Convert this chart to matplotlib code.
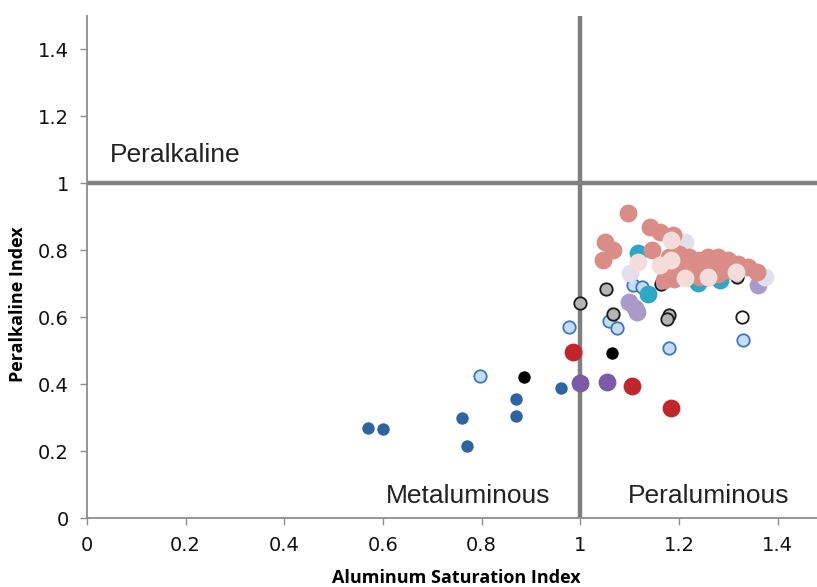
import matplotlib
matplotlib.use("Agg")
import matplotlib.pyplot as plt

# ── Data (ASI, peralkaline index)
dark_blue_x = [0.57, 0.60, 0.76, 0.77, 0.87, 0.87, 0.96]
dark_blue_y = [0.27, 0.265, 0.30, 0.215, 0.355, 0.305, 0.388]

black_x = [0.886, 1.065]
black_y = [0.421, 0.493]

light_blue_x = [0.797, 0.978, 1.059, 1.075, 1.179, 1.329, 1.107, 1.126]
light_blue_y = [0.424, 0.570, 0.588, 0.567, 0.507, 0.531, 0.695, 0.690]

gray_x = [1.0, 1.053, 1.067, 1.164, 1.180, 1.176, 1.318]
gray_y = [0.642, 0.684, 0.609, 0.698, 0.606, 0.594, 0.719]

open_x = [1.327]
open_y = [0.600]

red_x = [0.986, 1.105, 1.183]
red_y = [0.496, 0.394, 0.328]

purple_x = [1.0, 1.055]
purple_y = [0.403, 0.406]

teal_x = [1.138, 1.118, 1.239, 1.284]
teal_y = [0.669, 0.791, 0.701, 0.710]

light_purple_x = [1.098, 1.112, 1.116, 1.361]
light_purple_y = [0.645, 0.627, 0.615, 0.696]

lavender_x = [1.213, 1.101, 1.375, 1.25]
lavender_y = [0.824, 0.731, 0.720, 0.735]

salmon_x = [1.097, 1.142, 1.162, 1.189, 1.051, 1.067, 1.047, 1.146,
            1.18, 1.20, 1.22, 1.24, 1.26, 1.28, 1.30, 1.32, 1.34, 1.359,
            1.19, 1.21, 1.23, 1.25, 1.27, 1.29, 1.31,
            1.18, 1.20, 1.22, 1.24, 1.28, 1.30, 1.17, 1.19, 1.26]
salmon_y = [0.910, 0.869, 0.854, 0.845, 0.824, 0.800, 0.770, 0.800,
            0.78, 0.79, 0.78, 0.77, 0.78, 0.78, 0.77, 0.76, 0.75, 0.734,
            0.75, 0.76, 0.75, 0.76, 0.75, 0.76, 0.745,
            0.73, 0.73, 0.735, 0.72, 0.73, 0.74, 0.71, 0.715, 0.72]

pale_pink_x = [1.183, 1.118, 1.162, 1.213, 1.26, 1.316, 1.183]
pale_pink_y = [0.830, 0.764, 0.755, 0.716, 0.719, 0.734, 0.770]

LINE_GRAY = "#808080"
AXIS_GRAY = "#8c8c8c"
S_SMALL = 80
S_LARGE = 165

plt.rcParams["font.family"] = ["Liberation Sans Narrow", "DejaVu Sans"]

fig = plt.figure(figsize=(8.17, 5.87), dpi=100)
ax = fig.add_axes([87 / 817, 1 - 518 / 587, 730 / 817, 502 / 587])

ax.axvline(1.0, color=LINE_GRAY, linewidth=3.2, zorder=1)
ax.axhline(1.0, color=LINE_GRAY, linewidth=3.2, zorder=1)

ax.scatter(dark_blue_x, dark_blue_y, s=S_SMALL, c="#2E64A0", linewidths=0, zorder=3)
ax.scatter(black_x, black_y, s=S_SMALL, c="#000000", linewidths=0, zorder=3)
ax.scatter(light_blue_x, light_blue_y, s=S_SMALL, c="#C5DCF2",
           edgecolors="#3C78BE", linewidths=1.3, zorder=3)
ax.scatter(gray_x, gray_y, s=S_SMALL, c="#B4B4B4",
           edgecolors="#1a1a1a", linewidths=1.3, zorder=3)
ax.scatter(open_x, open_y, s=S_SMALL, c="white",
           edgecolors="#1a1a1a", linewidths=1.3, zorder=3)
ax.scatter(red_x, red_y, s=S_LARGE, c="#C0262C", linewidths=0, zorder=4)
ax.scatter(purple_x, purple_y, s=S_LARGE, c="#7B5AA6", linewidths=0, zorder=4)
ax.scatter(teal_x, teal_y, s=S_LARGE, c="#2CA8C6", linewidths=0, zorder=4)
ax.scatter(light_purple_x, light_purple_y, s=S_LARGE, c="#A99ACA", linewidths=0, zorder=4)
ax.scatter(lavender_x, lavender_y, s=S_LARGE, c="#E2DEEC", linewidths=0, zorder=4)
ax.scatter(salmon_x, salmon_y, s=S_LARGE, c="#DA8C87", linewidths=0, zorder=5)
ax.scatter(pale_pink_x, pale_pink_y, s=S_LARGE, c="#F3DCDA", linewidths=0, zorder=6)

ax.set_xlim(0, 1.48)
ax.set_ylim(0, 1.5)
ax.set_xticks([0, 0.2, 0.4, 0.6, 0.8, 1, 1.2, 1.4])
ax.set_xticklabels(["0", "0.2", "0.4", "0.6", "0.8", "1", "1.2", "1.4"])
ax.set_yticks([0, 0.2, 0.4, 0.6, 0.8, 1, 1.2, 1.4])
ax.set_yticklabels(["0", "0.2", "0.4", "0.6", "0.8", "1", "1.2", "1.4"])

for side in ["top", "right"]:
    ax.spines[side].set_visible(False)
for side in ["left", "bottom"]:
    ax.spines[side].set_color(AXIS_GRAY)
    ax.spines[side].set_linewidth(1.3)
ax.tick_params(direction="out", length=5, width=1.0, color=AXIS_GRAY,
               labelsize=14, labelcolor="#111111", pad=8)

txt = dict(family=["Liberation Sans", "DejaVu Sans"], fontsize=19, color="#222222")
ax.text(0.047, 1.084, "Peralkaline", ha="left", va="center", **txt)
ax.text(0.94, 0.066, "Metaluminous", ha="right", va="center", **txt)
ax.text(1.097, 0.066, "Peraluminous", ha="left", va="center", **txt)

fig.text(456 / 817, 1 - 578 / 587, "Aluminum Saturation Index", ha="center",
         va="center", fontsize=13, fontweight="bold",
         family=["Open Sans", "DejaVu Sans"])
fig.text(18 / 817, 1 - 304 / 587, "Peralkaline Index", ha="center",
         va="center", rotation=90, fontsize=13, fontweight="bold",
         family=["Open Sans", "DejaVu Sans"])

fig.savefig("out.png", dpi=100)
